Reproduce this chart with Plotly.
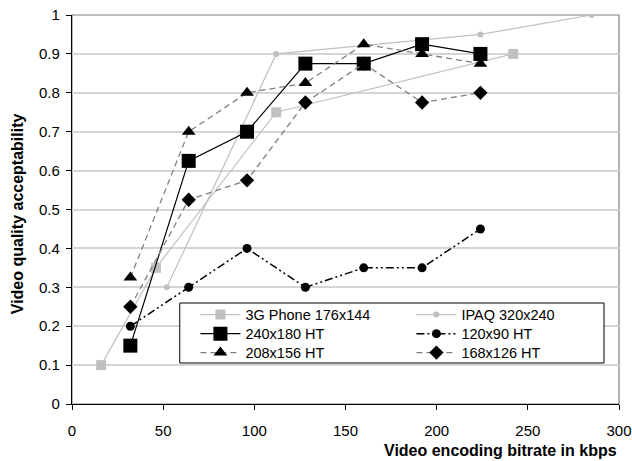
import plotly.graph_objects as go

# Data
phone_x = [16, 46, 112, 242]
phone_y = [0.10, 0.35, 0.75, 0.90]

ipaq_x = [52, 112, 224, 285]
ipaq_y = [0.30, 0.90, 0.95, 1.00]

ht_x = [32, 64, 96, 128, 160, 192, 224]
ht240_y = [0.15, 0.625, 0.70, 0.875, 0.875, 0.925, 0.90]
ht120_y = [0.20, 0.30, 0.40, 0.30, 0.35, 0.35, 0.45]
ht208_y = [0.325, 0.70, 0.80, 0.825, 0.925, 0.90, 0.875]
ht168_y = [0.25, 0.525, 0.575, 0.775, 0.875, 0.775, 0.80]

x_ticks = [0, 50, 100, 150, 200, 250, 300]
y_ticks = [0, 0.1, 0.2, 0.3, 0.4, 0.5, 0.6, 0.7, 0.8, 0.9, 1]

LG = "#C0C0C0"
DG = "#808080"

fig = go.Figure()
fig.add_trace(go.Scatter(x=phone_x, y=phone_y, name="3G Phone 176x144", mode="lines+markers",
                         line=dict(color=LG, width=1.2), legend="legend",
                         marker=dict(symbol="square", size=10, color=LG)))
fig.add_trace(go.Scatter(x=ipaq_x, y=ipaq_y, name="IPAQ 320x240", mode="lines+markers",
                         line=dict(color=LG, width=1.2), legend="legend",
                         marker=dict(symbol="circle", size=6, color=LG)))
fig.add_trace(go.Scatter(x=ht_x, y=ht240_y, name="240x180 HT", mode="lines+markers",
                         line=dict(color="black", width=1.2), legend="legend2",
                         marker=dict(symbol="square", size=14, color="black")))
fig.add_trace(go.Scatter(x=ht_x, y=ht120_y, name="120x90 HT", mode="lines+markers",
                         line=dict(color="black", width=1.5, dash="8px,3px,2px,3px,2px,3px"),
                         legend="legend2",
                         marker=dict(symbol="circle", size=9, color="black")))
fig.add_trace(go.Scatter(x=ht_x, y=ht208_y, name="208x156 HT", mode="lines+markers",
                         line=dict(color=DG, width=1.3, dash="6px,4px"), legend="legend3",
                         marker=dict(symbol="triangle-up", size=12, color="black")))
fig.add_trace(go.Scatter(x=ht_x, y=ht168_y, name="168x126 HT", mode="lines+markers",
                         line=dict(color=DG, width=1.3, dash="6px,4px"), legend="legend3",
                         marker=dict(symbol="diamond", size=11, color="black")))

font_family = "Liberation Sans, Arial, sans-serif"


def row_legend(y):
    return dict(orientation="h", x=0.2256, y=y, xanchor="left", yanchor="middle",
                bgcolor="rgba(0,0,0,0)", borderwidth=0,
                font=dict(size=14.5), entrywidth=161, itemwidth=40, tracegroupgap=0)


fig.update_layout(
    width=632, height=461,
    margin=dict(l=72, r=13, t=15, b=57, autoexpand=False),
    paper_bgcolor="white", plot_bgcolor="white",
    font=dict(family=font_family, size=15, color="black"),
    showlegend=True,
    legend=row_legend(0.2296),
    legend2=row_legend(0.1807),
    legend3=row_legend(0.1319),
    xaxis=dict(range=[0, 300], tickvals=x_ticks, ticks="outside", ticklen=5, tickcolor="black",
               showline=True, linecolor="black", linewidth=1.2, showgrid=False, zeroline=False,
               automargin=False, ticklabelstandoff=8),
    yaxis=dict(range=[0, 1], tickvals=y_ticks, ticktext=[f"{v:g}" for v in y_ticks],
               ticks="outside", ticklen=5, tickcolor="black",
               showline=True, linecolor="black", linewidth=1.2, automargin=False,
               ticklabelstandoff=3,
               showgrid=True, gridcolor="#D4D4D4", gridwidth=1.5, zeroline=False),
    shapes=[
        dict(type="rect", xref="paper", yref="paper", x0=0, x1=1, y0=0, y1=1,
             line=dict(color=DG, width=1.2), layer="below"),
        dict(type="rect", xref="paper", yref="paper", x0=0.197, x1=0.9726, y0=0.1054, y1=0.2596,
             line=dict(color="black", width=1), fillcolor="white", layer="above"),
    ],
    annotations=[
        dict(text="<b>Video encoding bitrate in kbps</b>", xref="paper", yref="paper",
             x=1.0, y=-0.12, xanchor="right", yanchor="middle", showarrow=False,
             font=dict(size=16)),
        dict(text="<b>Video quality acceptability</b>", xref="paper", yref="paper",
             x=-0.099, y=0.49, xanchor="center", yanchor="middle", textangle=-90,
             showarrow=False, font=dict(size=16)),
    ],
)

fig.write_html("out.html", config={"displayModeBar": False},
               post_script="document.body.style.margin='0';")
